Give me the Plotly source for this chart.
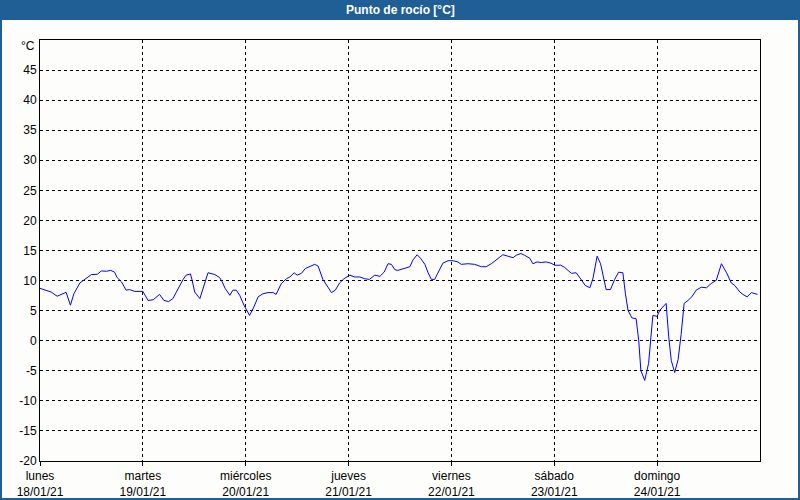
import plotly.graph_objects as go

# Time in hours since Monday 18/01/21 00:00
hours = [0, 1.1, 2.6, 4.0, 5.4, 6.1, 7.1, 7.9, 9.3, 10.4, 12.0, 13.4, 14.3, 15.5, 16.5, 17.4,
         18.0, 19.0, 20.1, 20.9, 22.1, 24.0, 25.2, 26.4, 27.9, 28.9, 30.0, 31.0, 32.2, 33.4,
         34.1, 35.1, 35.5, 36.1, 37.3, 38.3, 39.2, 40.8, 41.9, 42.5, 43.2, 44.3, 45.0, 45.8,
         46.6, 47.6, 48.4, 48.9, 49.9, 50.9, 52.0, 53.2, 54.4, 55.1, 56.3, 57.5, 58.3, 59.3,
         60.0, 61.0, 61.9, 62.9, 64.1, 64.9, 66.0, 67.2, 68.0, 68.9, 69.9, 70.9, 72.3, 73.4,
         74.6, 75.8, 76.9, 78.1, 79.3, 80.3, 81.2, 82.0, 82.8, 83.5, 84.5, 86.3, 87.0, 88.0,
         88.8, 89.8, 90.5, 91.3, 92.1, 92.9, 94.0, 95.2, 96.4, 97.5, 98.3, 99.9, 101.4, 103.0,
         104.1, 105.3, 106.5, 108.0, 109.2, 110.4, 111.1, 112.2, 113.1, 114.3, 115.0, 116.0,
         117.0, 118.1, 119.2, 120.1, 121.5, 122.4, 123.2, 124.0, 125.1, 125.9, 126.5, 127.2,
         128.3, 129.0, 130.0, 130.8, 132.1, 133.1, 134.1, 135.0, 136.0, 136.6, 137.2, 138.1,
         139.1, 139.7, 140.2, 141.1, 142.0, 143.0, 144.0, 144.6, 145.4, 146.1, 146.7, 147.3,
         148.1, 148.9, 149.6, 150.3, 151.2, 152.1, 153.1, 154.3, 155.5, 156.6, 157.8, 159.0,
         160.2, 161.3, 162.1, 163.3, 164.0, 165.0, 166.0, 166.8, 167.4]

dew_point = [8.7, 8.5, 8.1, 7.4, 7.9, 8.05, 5.9, 7.8, 9.6, 10.2, 11.0, 11.05, 11.6, 11.55, 11.7, 11.4,
             10.5, 9.8, 8.4, 8.5, 8.2, 8.2, 6.7, 6.8, 7.7, 6.7, 6.5, 7.0, 8.7, 10.2,
             10.9, 11.1, 10.05, 8.1, 7.0, 9.5, 11.3, 11.0, 10.5, 9.8, 8.7, 7.55, 8.4, 8.4,
             7.55, 5.9, 4.8, 4.2, 5.6, 7.3, 7.8, 8.0, 8.0, 7.7, 9.5, 10.3, 10.6, 11.3,
             10.9, 11.2, 12.0, 12.3, 12.7, 12.4, 10.2, 8.9, 8.0, 8.4, 9.6, 10.3, 10.9, 10.6,
             10.6, 10.3, 10.2, 10.9, 10.7, 11.4, 12.8, 12.7, 11.8, 11.7, 11.9, 12.3, 13.4, 14.3,
             13.7, 12.7, 11.4, 10.2, 10.2, 11.4, 12.9, 13.3, 13.3, 13.1, 12.7, 12.8, 12.7, 12.3,
             12.3, 12.8, 13.4, 14.3, 14.05, 13.8, 14.2, 14.5, 14.2, 13.7, 12.8, 13.1,
             13.0, 13.1, 12.9, 12.55, 12.55, 12.2, 11.7, 11.2, 11.3, 10.6, 9.95, 9.2,
             8.8, 10.3, 14.05, 12.8, 8.5, 8.5, 10.2, 11.4, 11.3, 7.8, 5.05, 3.8,
             3.65, 0.05, -4.95, -6.6, -3.8, 4.2, 4.05, 5.05, 5.7, 6.2, 0.65, -3.3,
             -5.3, -3.1, 1.05, 6.2, 6.7, 7.3, 8.4, 8.9, 8.8, 9.5, 10.05, 12.8,
             11.3, 9.6, 9.2, 8.1, 7.7, 7.3, 8.0, 7.8, 7.7]

day_tickvals = [0, 24, 48, 72, 96, 120, 144]
day_names = ["lunes", "martes", "miércoles", "jueves", "viernes", "sábado", "domingo"]
day_dates = ["18/01/21", "19/01/21", "20/01/21", "21/01/21", "22/01/21", "23/01/21", "24/01/21"]
y_tickvals = list(range(-20, 50, 5))
y_ticktext = [str(v) for v in y_tickvals]
unit_label = "°C"

FRAME = "#1f5f96"
BG = "#fdfefb"
FONT = "Liberation Sans"

fig = go.Figure()
fig.add_trace(go.Scatter(x=hours, y=dew_point, mode="lines",
                         line=dict(color="#0000ff", width=1), hoverinfo="skip"))

W, H = 800, 500
ml, mr, mt, mb = 40, 40, 40, 39
pw, ph = W - ml - mr, H - mt - mb

def px_x(x):
    return (x - ml) / pw

def px_y(y):
    return (H - mb - y) / ph

shapes = [
    # title bar
    dict(type="rect", xref="paper", yref="paper", x0=px_x(0), x1=px_x(W), y0=px_y(20), y1=px_y(0),
         fillcolor=FRAME, line=dict(width=0), layer="below"),
    # frame borders
    dict(type="rect", xref="paper", yref="paper", x0=px_x(0), x1=px_x(2), y0=px_y(H), y1=px_y(0),
         fillcolor=FRAME, line=dict(width=0)),
    dict(type="rect", xref="paper", yref="paper", x0=px_x(W - 2), x1=px_x(W), y0=px_y(H), y1=px_y(0),
         fillcolor=FRAME, line=dict(width=0)),
    dict(type="rect", xref="paper", yref="paper", x0=px_x(0), x1=px_x(W), y0=px_y(H), y1=px_y(H - 2),
         fillcolor=FRAME, line=dict(width=0)),
]

fig.update_layout(
    template="none",
    width=W, height=H,
    margin=dict(l=ml, r=mr, t=mt, b=mb, autoexpand=False),
    paper_bgcolor=BG, plot_bgcolor=BG,
    showlegend=False,
    font=dict(family=FONT, size=12, color="#000000"),
    shapes=shapes,
    annotations=[
        dict(text="<b>Punto de rocío [°C]</b>", xref="paper", yref="paper",
             x=0.5, y=px_y(10), xanchor="center", yanchor="middle", showarrow=False,
             font=dict(family=FONT, size=12, color="#ffffff")),
        dict(text=unit_label, xref="paper", yref="paper",
             x=px_x(37), y=px_y(46), xanchor="right", yanchor="middle", showarrow=False,
             font=dict(family=FONT, size=12, color="#000000")),
    ],
)

fig.update_xaxes(
    range=[0, 168], tickvals=day_tickvals,
    ticktext=[f"{n}<br>{d}" for n, d in zip(day_names, day_dates)],
    showgrid=True, gridcolor="#000000", gridwidth=1, griddash="3px,3px",
    showline=True, linecolor="#000000", linewidth=1, mirror=True,
    ticks="outside", ticklen=4, tickcolor="#000000", tickwidth=1,
    zeroline=False, fixedrange=True, automargin=False,
)
fig.update_yaxes(
    range=[-20, 50], tickvals=y_tickvals, ticktext=y_ticktext,
    showgrid=True, gridcolor="#000000", gridwidth=1, griddash="3px,3px",
    showline=True, linecolor="#000000", linewidth=1, mirror=True,
    ticks="", zeroline=False, fixedrange=True, automargin=False,
)

fig.write_html("out.html", config={"displayModeBar": False},
               post_script="document.body.style.margin='0';document.body.style.overflow='hidden';")
